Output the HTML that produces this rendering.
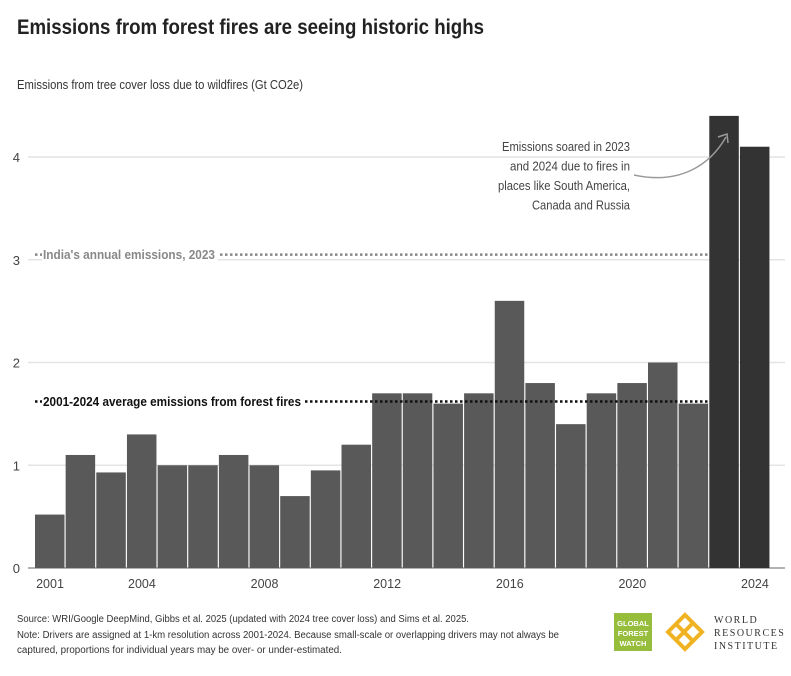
<!DOCTYPE html>
<html><head><meta charset="utf-8"><style>
body{margin:0;background:#fff;font-family:"Liberation Sans",sans-serif}
svg{display:block}
</style></head><body>
<svg width="791" height="676" viewBox="0 0 791 676">
<text x="17" y="34" font-size="21" font-weight="bold" fill="#222" textLength="467" lengthAdjust="spacingAndGlyphs">Emissions from forest fires are seeing historic highs</text>
<text x="17" y="89" font-size="12.5" fill="#333" textLength="286" lengthAdjust="spacingAndGlyphs">Emissions from tree cover loss due to wildfires (Gt CO2e)</text>
<g id="grid"></g>
<g id="bars"></g>
<g id="xt"></g>
<g id="refs"></g>
<g font-size="12.5" fill="#444" text-anchor="end">
<text x="630" y="151" textLength="128" lengthAdjust="spacingAndGlyphs">Emissions soared in 2023</text>
<text x="630" y="170.5" textLength="120" lengthAdjust="spacingAndGlyphs">and 2024 due to fires in</text>
<text x="630" y="190" textLength="132" lengthAdjust="spacingAndGlyphs">places like South America,</text>
<text x="630" y="209.5" textLength="98" lengthAdjust="spacingAndGlyphs">Canada and Russia</text>
</g>
<path d="M634 175 C680 185 710 165 726 137" fill="none" stroke="#999" stroke-width="1.5"/>
<path d="M718 137 L727 134 L728 143" fill="none" stroke="#999" stroke-width="1.5"/>
<text x="17" y="622" font-size="10" fill="#333" textLength="452" lengthAdjust="spacingAndGlyphs">Source: WRI/Google DeepMind, Gibbs et al. 2025 (updated with 2024 tree cover loss) and Sims et al. 2025.</text>
<text x="17" y="638" font-size="10" fill="#333" textLength="542" lengthAdjust="spacingAndGlyphs">Note: Drivers are assigned at 1-km resolution across 2001-2024. Because small-scale or overlapping drivers may not always be</text>
<text x="17" y="653" font-size="10" fill="#333" textLength="325" lengthAdjust="spacingAndGlyphs">captured, proportions for individual years may be over- or under-estimated.</text>
<g>
<rect x="614" y="613" width="38" height="38" fill="#97bd3d"/>
<text x="633" y="626" font-size="7.5" font-weight="bold" fill="#fff" text-anchor="middle">GLOBAL</text>
<text x="633" y="636" font-size="7.5" font-weight="bold" fill="#fff" text-anchor="middle">FOREST</text>
<text x="633" y="646" font-size="7.5" font-weight="bold" fill="#fff" text-anchor="middle">WATCH</text>
</g>
<g stroke="#f0b323" stroke-width="4" fill="none">
<path d="M668 632 L685 615 L702 632 L685 649 Z"/>
<path d="M676 624 L693 641 M693 623 L676 640"/>
</g>
<text x="714" y="623" font-size="10" fill="#333" font-family="Liberation Serif,serif" letter-spacing="1.5"><tspan x="714">WORLD</tspan><tspan x="714" dy="13">RESOURCES</tspan><tspan x="714" dy="13">INSTITUTE</tspan></text>
</svg>
<script>
const years=[2001,2002,2003,2004,2005,2006,2007,2008,2009,2010,2011,2012,2013,2014,2015,2016,2017,2018,2019,2020,2021,2022,2023,2024];
const values=[0.52,1.1,0.93,1.3,1.0,1.0,1.1,1.0,0.7,0.95,1.2,1.7,1.7,1.6,1.7,2.6,1.8,1.4,1.7,1.8,2.0,1.6,4.4,4.1];
const yTicks=[0,1,2,3,4];
const xTickYears=[2001,2004,2008,2012,2016,2020,2024];
const indiaValue=3.05;
const avgValue=1.62;
const NS="http://www.w3.org/2000/svg";
const y=v=>568-v*102.75;
const x=yr=>50+(yr-2001)*30.65;
function mk(t,a,p){const e=document.createElementNS(NS,t);for(const k in a)e.setAttribute(k,a[k]);p.appendChild(e);return e;}
const grid=document.getElementById('grid');
yTicks.forEach(v=>{
 const l=mk('line',{x1:28,x2:785,y1:y(v),y2:y(v),stroke:v===0?'#999':'#e4e4e4','stroke-width':1.5},grid);
 
 
 const t=mk('text',{x:20,y:y(v)+5,'font-size':13,fill:'#444','text-anchor':'end'},grid);t.textContent=v;
 
 
});
const bars=document.getElementById('bars');
years.forEach((yr,i)=>{
 const r=mk('rect',{x:x(yr)-15,y:y(values[i]),width:29.5,height:y(0)-y(values[i]),fill:yr>=2023?'#333':'#595959'},bars);
 
 
});
const xt=document.getElementById('xt');
xTickYears.forEach(yr=>{
 const t=mk('text',{x:x(yr),y:588,'font-size':12.5,fill:'#444','text-anchor':'middle'},xt);t.textContent=yr;
 
 
});
const refs=document.getElementById('refs');
[[indiaValue,'#888',"India's annual emissions, 2023",'india-line'],[avgValue,'#111','2001-2024 average emissions from forest fires','average-line']].forEach(([v,c,lab,n])=>{
 const l=mk('line',{x1:35,x2:x(2023)-15,y1:y(v),y2:y(v),stroke:c,'stroke-width':2.5,'stroke-dasharray':'2.5 2.5'},refs);
 
 
 const w=lab.length>35?262:176;
 mk('rect',{x:42,y:y(v)-9,width:w,height:16,fill:'#fff'},refs);
 const t=mk('text',{x:43,y:y(v)+4.5,'font-size':12.5,'font-weight':'bold',fill:c,textLength:w-4,lengthAdjust:'spacingAndGlyphs'},refs);t.textContent=lab;
 
 
});
</script>
</body></html>
